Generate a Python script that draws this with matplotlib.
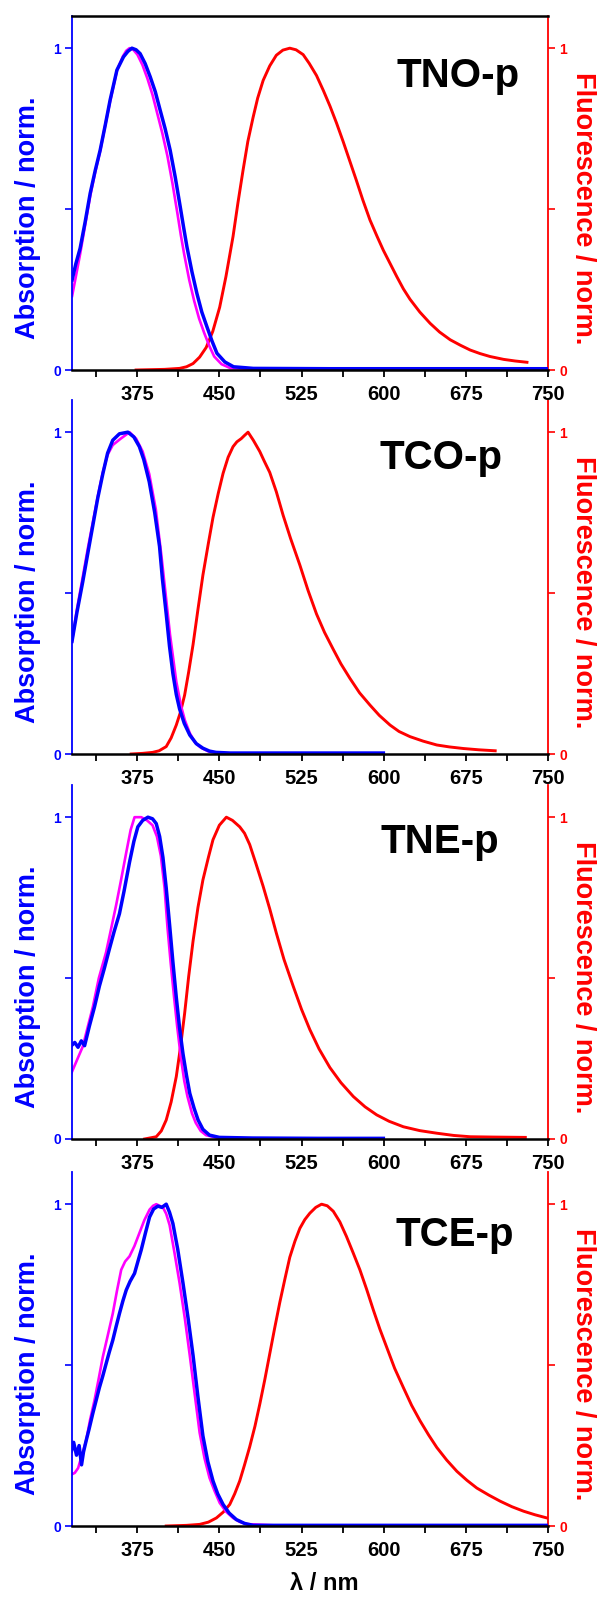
"""Normalised absorption / fluorescence spectra of four compounds (stacked panels)."""
import matplotlib

matplotlib.use("Agg")
import matplotlib.pyplot as plt
from matplotlib.ticker import MultipleLocator

plt.rcParams["font.family"] = ["Liberation Sans", "DejaVu Sans"]
plt.rcParams["font.weight"] = "bold"

BLUE = "#0000ff"
MAGENTA = "#ff00ff"
RED = "#ff0000"

names = ["TNO-p", "TCO-p", "TNE-p", "TCE-p"]

# ---- TNO-p ----
tno_abs_x = [315.6, 319, 322.9, 327.5, 332.1, 336.7, 341.2, 345.8, 350.3, 356.5, 362.5, 366.5,
             370.2, 374, 377.7, 382.3, 386.9, 391.5, 396, 400.5, 405.1, 409.7, 414.3, 417.3,
             420.4, 425, 429.5, 434, 438.7, 443.3, 447.8, 455, 463, 481, 550, 650, 749]
tno_abs_y = [0.28, 0.33, 0.378, 0.46, 0.549, 0.62, 0.683, 0.76, 0.839, 0.932, 0.973, 0.99,
             1.0, 0.995, 0.983, 0.952, 0.911, 0.865, 0.807, 0.75, 0.683, 0.60, 0.507, 0.445,
             0.383, 0.305, 0.238, 0.18, 0.134, 0.09, 0.052, 0.025, 0.01, 0.005, 0.004, 0.004,
             0.004]
tno_exc_x = [315.6, 319, 322.9, 327.5, 332.1, 336.7, 341.2, 345.8, 350.3, 356.5, 362, 365, 368,
             371.5, 375.2, 379.8, 384.4, 389, 393.5, 398, 402.6, 407.2, 411.8, 414.8, 417.9,
             422.5, 427, 431.5, 436.2, 440.8, 445.3, 452, 460, 480]
tno_exc_y = [0.23, 0.29, 0.36, 0.45, 0.54, 0.615, 0.68, 0.76, 0.835, 0.93, 0.975, 0.992, 1.0,
             0.995, 0.98, 0.948, 0.905, 0.855, 0.795, 0.735, 0.665, 0.58, 0.485, 0.42, 0.36,
             0.28, 0.215, 0.16, 0.115, 0.075, 0.042, 0.018, 0.006, 0.003]
tno_fl_x = [374, 400, 413.7, 420, 426, 432, 438, 444, 450.3, 456, 462.5, 467, 471.6, 476, 480.8,
            485, 490, 496, 502, 508, 514.3, 520, 526.5, 532, 538.7, 545, 551, 557, 563, 569, 575,
            581, 587.5, 594, 599.7, 606, 612, 618, 624, 633, 642.4, 651, 660.7, 670, 679, 688,
            697, 709.5, 720, 730.8]
tno_fl_y = [0.0, 0.002, 0.005, 0.01, 0.02, 0.04, 0.07, 0.12, 0.195, 0.29, 0.415, 0.52, 0.62,
            0.71, 0.785, 0.845, 0.90, 0.945, 0.978, 0.994, 1.0, 0.995, 0.98, 0.953, 0.915, 0.868,
            0.82, 0.767, 0.71, 0.65, 0.59, 0.528, 0.466, 0.415, 0.372, 0.33, 0.29, 0.252, 0.22,
            0.18, 0.145, 0.118, 0.094, 0.077, 0.062, 0.051, 0.042, 0.033, 0.028, 0.024]

# ---- TCO-p ----
tco_abs_x = [315.5, 320, 325.3, 330, 334.5, 339, 343.6, 348, 352.7, 358.8, 366.5, 372, 377, 381,
             386, 391, 395.4, 398, 401.5, 404.5, 407.6, 410.7, 413.7, 418, 423, 429, 435, 441,
             447, 460, 500, 550, 599.7]
tco_abs_y = [0.35, 0.44, 0.535, 0.625, 0.71, 0.795, 0.87, 0.935, 0.975, 0.995, 1.0, 0.985, 0.955,
             0.915, 0.846, 0.75, 0.645, 0.545, 0.435, 0.335, 0.25, 0.185, 0.14, 0.095, 0.059,
             0.032, 0.018, 0.009, 0.005, 0.003, 0.003, 0.003, 0.003]
tco_exc_x = [315.5, 320, 325.3, 330, 334.5, 339, 343.6, 348, 352.7, 360, 368, 374, 380, 386, 392,
             397, 401.5, 405, 410.7, 415, 418.5, 423, 428, 433, 440, 450]
tco_exc_y = [0.35, 0.45, 0.55, 0.64, 0.72, 0.80, 0.875, 0.93, 0.96, 0.98, 1.0, 0.98, 0.94, 0.87,
             0.76, 0.62, 0.48, 0.37, 0.225, 0.15, 0.105, 0.065, 0.035, 0.02, 0.008, 0.003]
tco_fl_x = [369.5, 380, 389, 395, 401.5, 406, 410.7, 414.5, 418.3, 422, 426, 430.5, 435, 440,
            444.2, 449, 453.4, 458, 462.5, 466, 470, 473, 476.2, 481, 486.9, 491, 496, 502,
            508.2, 515, 523.5, 531, 538.7, 546, 554, 561, 569.2, 578, 587.5, 596, 605.8, 614,
            624, 636, 648.5, 660, 672.9, 687, 701.8]
tco_fl_y = [0.0, 0.002, 0.005, 0.01, 0.023, 0.05, 0.09, 0.13, 0.183, 0.255, 0.34, 0.45, 0.556,
            0.655, 0.735, 0.81, 0.872, 0.922, 0.955, 0.97, 0.98, 0.99, 1.0, 0.975, 0.94, 0.91,
            0.875, 0.815, 0.742, 0.67, 0.587, 0.508, 0.435, 0.378, 0.325, 0.28, 0.235, 0.19,
            0.152, 0.12, 0.09, 0.07, 0.054, 0.04, 0.028, 0.022, 0.017, 0.013, 0.01]

# ---- TNE-p ----
tne_abs_x = [315, 318, 321, 324, 327, 331.3, 336, 340.5, 345, 349.6, 354, 358.8, 363, 368, 372,
             375.6, 380, 384.8, 389, 392.4, 395.5, 398.5, 401.5, 404.6, 407.6, 410.7, 413.7,
             416.8, 420, 423, 427, 430.6, 435, 441, 450, 480, 540, 599.7]
tne_abs_y = [0.29, 0.30, 0.285, 0.305, 0.29, 0.35, 0.41, 0.475, 0.53, 0.59, 0.645, 0.70, 0.77,
             0.86, 0.925, 0.97, 0.99, 1.0, 0.995, 0.98, 0.94, 0.875, 0.78, 0.665, 0.55, 0.44,
             0.345, 0.265, 0.198, 0.142, 0.095, 0.059, 0.03, 0.012, 0.005, 0.003, 0.002, 0.002]
tne_exc_x = [315, 320, 325.3, 330, 334.5, 340, 346.6, 351, 355.8, 360, 365, 369, 372.6, 378.7,
             384, 389, 393, 396.6, 400, 402.6, 405.5, 408.7, 411.5, 414.8, 418, 420.9, 425,
             428.5, 433, 437.8, 450]
tne_exc_y = [0.205, 0.245, 0.287, 0.35, 0.41, 0.50, 0.58, 0.65, 0.727, 0.80, 0.89, 0.96, 1.0,
             1.0, 0.99, 0.975, 0.94, 0.88, 0.78, 0.66, 0.55, 0.44, 0.35, 0.255, 0.18, 0.132,
             0.08, 0.05, 0.025, 0.012, 0.002]
tne_fl_x = [381.7, 392.4, 397, 401.5, 406, 410.7, 414.5, 418.3, 422, 426, 430.5, 435, 440,
            444.2, 450, 456.4, 462, 468.6, 473, 477.7, 483, 489.9, 496, 502, 509, 517.4, 525,
            532.6, 541, 550.9, 561, 572.3, 583, 593.6, 605, 618, 633, 648.5, 664, 679, 700, 729.3]
tne_fl_y = [0.0, 0.007, 0.025, 0.059, 0.115, 0.194, 0.285, 0.39, 0.505, 0.615, 0.72, 0.805, 0.875,
            0.93, 0.975, 1.0, 0.99, 0.97, 0.95, 0.915, 0.86, 0.786, 0.715, 0.64, 0.558, 0.475,
            0.403, 0.34, 0.28, 0.222, 0.175, 0.132, 0.10, 0.075, 0.055, 0.038, 0.026, 0.018,
            0.011, 0.007, 0.006, 0.005]

# ---- TCE-p ----
tce_abs_x = [315, 317, 319.6, 322, 324.2, 326, 328.4, 331, 334.5, 337.5, 340.5, 343.5, 346.6,
             349.5, 352.7, 355.8, 358.8, 362, 365, 368.5, 372.6, 375.5, 378.7, 382.5, 386.3, 390,
             393.9, 397.5, 401.5, 404.5, 407.6, 412, 416.8, 421.5, 426, 430.5, 435, 439.5, 444.2,
             448.5, 453.4, 459, 465.5, 473, 480.8, 520, 600, 680, 749]
tce_abs_y = [0.233, 0.26, 0.22, 0.25, 0.19, 0.23, 0.265, 0.30, 0.35, 0.39, 0.43, 0.465, 0.504,
             0.54, 0.577, 0.62, 0.66, 0.70, 0.733, 0.76, 0.785, 0.82, 0.858, 0.91, 0.96, 0.985,
             0.994, 0.99, 1.0, 0.975, 0.94, 0.86, 0.755, 0.645, 0.53, 0.40, 0.28, 0.20, 0.14,
             0.10, 0.067, 0.04, 0.02, 0.008, 0.002, 0.002, 0.002, 0.002, 0.002]
tce_exc_x = [315, 318, 321.1, 324.5, 328.4, 332, 336, 340, 343.6, 348, 352.7, 356.5, 360.4, 364,
             368, 372.5, 377, 381.5, 386.3, 389.5, 392.4, 395.5, 398.5, 401.5, 404.6, 409, 413.7,
             418.5, 423, 427.5, 432, 436.5, 441, 445.5, 450.3, 456, 462.5, 468.5, 474.7, 500, 534]
tce_exc_y = [0.16, 0.165, 0.18, 0.22, 0.265, 0.33, 0.39, 0.46, 0.525, 0.59, 0.66, 0.73, 0.796,
             0.822, 0.838, 0.87, 0.91, 0.95, 0.983, 0.995, 1.0, 0.995, 0.99, 0.97, 0.935, 0.85,
             0.755, 0.645, 0.53, 0.41, 0.29, 0.21, 0.15, 0.11, 0.072, 0.045, 0.025, 0.013,
             0.006, 0.002, 0.002]
tce_fl_x = [401.5, 420, 432, 440, 447.3, 453.5, 459.5, 464, 468.6, 473, 477.7, 482.5, 487, 491.5,
            496, 500.5, 505.2, 510, 514.3, 519, 523.5, 528, 532.6, 538, 543.3, 548.5, 554, 560,
            566, 572, 578.3, 584.5, 590.5, 596.5, 602.7, 610, 618, 625.5, 633.2, 641, 648.5,
            657.5, 666.8, 676, 685, 696, 706.4, 717, 727.7, 738, 749]
tce_fl_y = [0.0, 0.002, 0.005, 0.012, 0.025, 0.043, 0.067, 0.10, 0.14, 0.19, 0.246, 0.31, 0.38,
            0.455, 0.535, 0.615, 0.695, 0.77, 0.835, 0.885, 0.925, 0.952, 0.972, 0.99, 1.0, 0.995,
            0.978, 0.945, 0.90, 0.85, 0.796, 0.735, 0.672, 0.612, 0.556, 0.49, 0.43, 0.375,
            0.327, 0.283, 0.244, 0.205, 0.17, 0.142, 0.118, 0.096, 0.077, 0.06, 0.046, 0.035,
            0.025]

panels = [
    (tno_abs_x, tno_abs_y, tno_exc_x, tno_exc_y, tno_fl_x, tno_fl_y),
    (tco_abs_x, tco_abs_y, tco_exc_x, tco_exc_y, tco_fl_x, tco_fl_y),
    (tne_abs_x, tne_abs_y, tne_exc_x, tne_exc_y, tne_fl_x, tne_fl_y),
    (tce_abs_x, tce_abs_y, tce_exc_x, tce_exc_y, tce_fl_x, tce_fl_y),
]
label_pos = [(668, 0.88), (652, 0.885), (651, 0.89), (665, 0.87)]

W, H = 600, 1597
fig = plt.figure(figsize=(W / 100, H / 100), dpi=100)
bottoms_px = [370, 754, 1139, 1526]
left, width = 72 / W, 476 / W
height = 354 / H

for i, (name, data) in enumerate(zip(names, panels)):
    ax = fig.add_axes([left, (H - bottoms_px[i]) / H, width, height])
    ax2 = ax.twinx()
    ax.set_zorder(ax2.get_zorder() + 1)
    ax.patch.set_visible(False)
    ax_x, ax_y, ex_x, ex_y, fl_x, fl_y = data

    ax2.plot(fl_x, fl_y, color=RED, lw=2.1, solid_joinstyle="round")
    ax.plot(ex_x, ex_y, color=MAGENTA, lw=1.9, solid_joinstyle="round")
    ax.plot(ax_x, ax_y, color=BLUE, lw=2.5, solid_joinstyle="round")

    for a in (ax, ax2):
        a.set_xlim(315.5, 750)
        a.set_ylim(0, 1.1)
        a.set_yticks([0, 0.5, 1])
        a.set_yticklabels(["0", "", "1"])

    ax.xaxis.set_minor_locator(MultipleLocator(37.5))
    ax.set_xticks([375, 450, 525, 600, 675, 750])
    ax.tick_params(axis="x", which="major", direction="out", length=5, width=1.3,
                   labelsize=14.5, pad=6, colors="black")
    ax.tick_params(axis="x", which="minor", direction="out", length=5, width=1.3)
    ax.tick_params(axis="y", direction="out", length=5, width=1.2, colors=BLUE,
                   labelsize=10, pad=3)
    ax2.tick_params(axis="y", direction="out", length=5, width=1.2, colors=RED,
                    labelsize=10, pad=3)

    ax.spines["left"].set_color(BLUE)
    ax.spines["left"].set_linewidth(1.3)
    ax.spines["bottom"].set_color("black")
    ax.spines["bottom"].set_linewidth(1.8)
    ax.spines["right"].set_visible(False)
    ax2.spines["right"].set_color(RED)
    ax2.spines["right"].set_linewidth(1.3)
    for s in ("left", "bottom", "top"):
        ax2.spines[s].set_visible(False)
    if i == 0:
        ax.spines["top"].set_color("black")
        ax.spines["top"].set_linewidth(1.8)
    else:
        ax.spines["top"].set_visible(False)

    ax.text(-0.092, 0.43, "Absorption / norm.", transform=ax.transAxes, rotation=90,
            ha="center", va="center", color=BLUE, fontsize=19.5, fontweight="bold")
    ax.text(1.0735, 0.457, "Fluorescence / norm.", transform=ax.transAxes, rotation=-90,
            ha="center", va="center", color=RED, fontsize=19.5, fontweight="bold")
    lx, ly = label_pos[i]
    ax.text(lx, ly, name, ha="center", va="baseline", fontsize=29, fontweight="bold",
            color="black")

fig.text(324 / W, 1 - 1583 / H, "λ / nm", ha="center", va="center", fontsize=17,
         fontweight="bold")

fig.savefig("out.png", dpi=100)
